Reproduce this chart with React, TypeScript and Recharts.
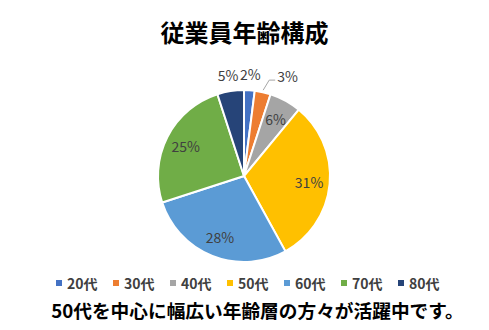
import { PieChart, Pie, Cell } from "recharts"

const categories = ["20代", "30代", "40代", "50代", "60代", "70代", "80代"]
const shares = [2, 3, 6, 31, 28, 25, 5]
const colors = ["#4472C4", "#ED7D31", "#A5A5A5", "#FFC000", "#5B9BD5", "#70AD47", "#264478"]

const title = "従業員年齢構成"
const caption = "50代を中心に幅広い年齢層の方々が活躍中です。"

const FONT = "'Noto Sans CJK JP', 'Noto Sans', sans-serif"
const RAD = Math.PI / 180

const data = categories.map((name, i) => ({ name, value: shares[i] }))

const renderLabel = (props: any) => {
  const { cx, cy, midAngle, outerRadius, value, name } = props
  const cos = Math.cos(-midAngle * RAD)
  const sin = Math.sin(-midAngle * RAD)
  const text = `${value}%`
  const style = { fontFamily: FONT, fontSize: 14, fill: "#404040" }

  if (value >= 6) {
    const r = outerRadius * 0.76
    return (
      <text x={cx + r * cos} y={cy + r * sin} textAnchor="middle" dominantBaseline="central" style={style}>
        {text}
      </text>
    )
  }

  if (name === "30代") {
    // callout label pushed to the right with a leader line
    const sx = cx + (outerRadius + 2) * cos
    const sy = cy + (outerRadius + 2) * sin
    const mx = sx + 6
    const my = sy - 10
    return (
      <g>
        <polyline points={`${sx},${sy} ${mx},${my} ${mx + 6},${my}`} stroke="#A6A6A6" strokeWidth={1} fill="none" />
        <text x={mx + 8} y={my - 4} textAnchor="start" dominantBaseline="central" style={style}>
          {text}
        </text>
      </g>
    )
  }

  const r = outerRadius + 16
  return (
    <text x={cx + r * cos} y={cy + r * sin} textAnchor="middle" dominantBaseline="central" style={style}>
      {text}
    </text>
  )
}

export default function App() {
  return (
    <div style={{ position: "absolute", left: 0, top: 0, width: 489, height: 330, background: "#fff" }}>
      <div
        style={{
          position: "absolute",
          top: 17,
          width: 489,
          textAlign: "center",
          fontFamily: FONT,
          fontSize: 24,
          fontWeight: 700,
          color: "#000",
          lineHeight: "30px",
        }}
      >
        {title}
      </div>
      <PieChart width={489} height={330} margin={{ top: 0, right: 0, bottom: 0, left: 0 }}>
        <Pie
          data={data}
          dataKey="value"
          nameKey="name"
          cx={244}
          cy={176}
          outerRadius={86}
          startAngle={90}
          endAngle={-270}
          stroke="#fff"
          strokeWidth={2}
          label={renderLabel}
          labelLine={false}
          isAnimationActive={false}
        >
          {data.map((d, i) => (
            <Cell key={d.name} fill={colors[i]} />
          ))}
        </Pie>
      </PieChart>
      {/* legend */}
      {categories.map((name, i) => (
        <div
          key={name}
          style={{
            position: "absolute",
            top: 273,
            left: 56 + i * 57,
            height: 20,
            display: "flex",
            alignItems: "center",
            fontFamily: FONT,
            fontSize: 14,
            fontWeight: 700,
            color: "#404040",
          }}
        >
          <span style={{ width: 6, height: 6, background: colors[i], marginRight: 5, display: "inline-block" }} />
          <span>{name}</span>
        </div>
      ))}
      <div
        style={{
          position: "absolute",
          top: 297,
          left: 13,
          width: 489,
          textAlign: "center",
          fontFamily: FONT,
          fontSize: 18.7,
          fontWeight: 700,
          color: "#000",
          lineHeight: "26px",
          whiteSpace: "nowrap",
        }}
      >
        {caption}
      </div>
    </div>
  )
}
